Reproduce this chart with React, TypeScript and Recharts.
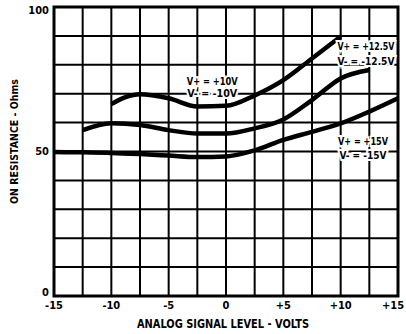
import { LineChart, Line, XAxis, YAxis, CartesianGrid, ReferenceArea, ReferenceDot, Label } from 'recharts';

// x positions (volts) for each supply curve
const xTen = [-10, -8.75, -7.5, -5, -2.5, 0, 2.5, 5, 7.5, 10];
const xTwelve = [-12.5, -10, -7.5, -5, -2.5, 0, 2.5, 5, 7.5, 10, 12.5];
const xFifteen = [-15, -12.5, -10, -7.5, -5, -2.5, 0, 2.5, 5, 7.5, 10, 12.5, 15];

// on resistance (ohms)
const rTen = [66.4, 68.8, 69.8, 68.4, 65.6, 65.8, 69.4, 74.7, 82.2, 89.8];
const rTwelve = [57.4, 59.8, 59.2, 57.4, 56.2, 56.2, 58.0, 61.1, 67.8, 75.3, 78.2];
const rFifteen = [49.8, 49.7, 49.5, 49.1, 48.6, 48.1, 48.3, 50.4, 54.0, 56.8, 59.7, 63.8, 68.4];

const xTicks = [-15, -12.5, -10, -7.5, -5, -2.5, 0, 2.5, 5, 7.5, 10, 12.5, 15];
const yTicks = [0, 10, 20, 30, 40, 50, 60, 70, 80, 90, 100];

const curveLabels = [
  { x: -1.2, y: 72.3, top: 'V+ = +10V', bottom: 'V- = -10V', gap: 11.8, w1: 51, w2: 50 },
  { x: 12.2, y: 83.9, top: 'V+ = +12.5V', bottom: 'V- = -12.5V', gap: 15, w1: 57, w2: 57 },
  { x: 11.95, y: 51.2, top: 'V+ = +15V', bottom: 'V- = -15V', gap: 13.4, w1: 50, w2: 47 },
];

const toPoints = (xs: number[], ys: number[]) => xs.map((x, i) => ({ x, r: ys[i] }));

const FONT = '"DejaVu Sans Condensed", "Liberation Sans Narrow", "Arial Narrow", sans-serif';

const fmtX = (v: number) => (v % 5 !== 0 ? '' : v > 0 ? `+${v}` : `${v}`);

function TwoLineLabel(props: any) {
  const { cx, cy, top, bottom, gap, w1, w2 } = props;
  const common = {
    x: cx,
    textAnchor: 'middle' as const,
    dominantBaseline: 'central' as const,
    fontFamily: FONT,
    fontWeight: 700,
    fontSize: 10.5,
    fill: '#000',
    stroke: '#fff',
    strokeWidth: 4,
    paintOrder: 'stroke',
    lengthAdjust: 'spacingAndGlyphs' as const,
  };
  return (
    <g>
      <text {...common} y={cy - gap / 2} textLength={w1}>{top}</text>
      <text {...common} y={cy + gap / 2} textLength={w2}>{bottom}</text>
    </g>
  );
}

function YTick(props: any) {
  const { x, y, payload } = props;
  const v = payload.value;
  if (v % 50 !== 0) return null;
  const shift = v === 0 ? -4 : v === 100 ? 3 : 0;
  return (
    <text x={x} y={y + shift} textAnchor="end" dominantBaseline="central" fontFamily={FONT} fontWeight={700} fontSize={11} fill="#000">
      {v}
    </text>
  );
}

function XTick(props: any) {
  const { x, y, payload } = props;
  const s = fmtX(payload.value);
  if (!s) return null;
  const dx = payload.value === 15 ? -5 : 0;
  return (
    <text x={x + dx} y={y + 7} textAnchor="middle" dominantBaseline="central" fontFamily={FONT} fontWeight={700} fontSize={11} fill="#000">
      {s}
    </text>
  );
}

export default function App() {
  return (
    <div style={{ position: 'absolute', left: 0, top: 0, background: '#fff' }}>
      <LineChart width={406} height={334} margin={{ top: 7, right: 8, bottom: 0, left: 0 }}>
        <CartesianGrid stroke="#000" strokeWidth={2} horizontalValues={yTicks} verticalValues={xTicks} />
        <XAxis
          type="number"
          dataKey="x"
          domain={[-15, 15]}
          ticks={xTicks}
          interval={0}
          tickLine={false}
          axisLine={false}
          tickSize={0}
          tickMargin={2}
          tick={<XTick />}
          height={38}
          allowDuplicatedCategory={false}
        >
          <Label
            content={(p: any) => {
              const vb = p.viewBox || {};
              const cx = (vb.x ?? 0) + (vb.width ?? 0) / 2 - 3;
              return (
                <text
                  x={cx}
                  y={324}
                  textAnchor="middle"
                  dominantBaseline="central"
                  fontFamily={FONT}
                  fontWeight={700}
                  fontSize={11.5}
                  fill="#000"
                  textLength={172}
                  lengthAdjust="spacingAndGlyphs"
                >
                  ANALOG SIGNAL LEVEL - VOLTS
                </text>
              );
            }}
          />
        </XAxis>
        <YAxis
          type="number"
          domain={[0, 100]}
          ticks={yTicks}
          interval={0}
          tickLine={false}
          axisLine={false}
          tickSize={0}
          tickMargin={5}
          tick={<YTick />}
          width={54}
        >
          <Label
            content={(p: any) => {
              const vb = p.viewBox || {};
              const cx = 14;
              const cy = (vb.y ?? 0) + (vb.height ?? 0) / 2 - 10;
              return (
                <text
                  x={cx}
                  y={cy}
                  transform={`rotate(-90 ${cx} ${cy})`}
                  textAnchor="middle"
                  dominantBaseline="central"
                  fontFamily={FONT}
                  fontWeight={700}
                  fontSize={11}
                  fill="#000"
                  textLength={125}
                  lengthAdjust="spacingAndGlyphs"
                >
                  ON RESISTANCE - Ohms
                </text>
              );
            }}
          />
        </YAxis>
        <ReferenceArea x1={-15} x2={15} y1={0} y2={100} fill="none" stroke="#000" strokeWidth={3} fillOpacity={0} />
        <Line data={toPoints(xTen, rTen)} dataKey="r" type="monotone" stroke="#000" strokeWidth={4.5} dot={false} isAnimationActive={false} />
        <Line data={toPoints(xTwelve, rTwelve)} dataKey="r" type="monotone" stroke="#000" strokeWidth={4.5} dot={false} isAnimationActive={false} />
        <Line data={toPoints(xFifteen, rFifteen)} dataKey="r" type="monotone" stroke="#000" strokeWidth={4.5} dot={false} isAnimationActive={false} />
        {curveLabels.map((l) => (
          <ReferenceDot
            key={l.top}
            x={l.x}
            y={l.y}
            r={0}
            shape={(p: any) => <TwoLineLabel {...p} top={l.top} bottom={l.bottom} gap={l.gap} w1={l.w1} w2={l.w2} />}
          />
        ))}
      </LineChart>
    </div>
  );
}
